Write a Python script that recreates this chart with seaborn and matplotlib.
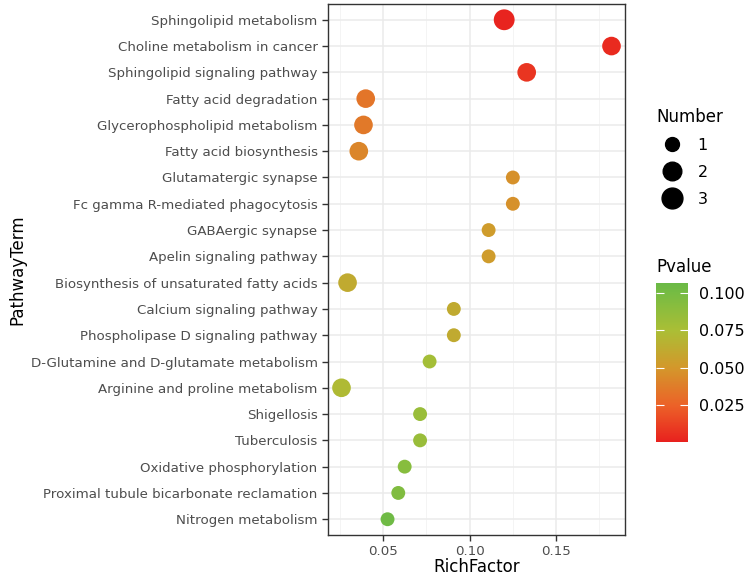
import numpy as np
import pandas as pd
import matplotlib
matplotlib.use("Agg")
import matplotlib.pyplot as plt
import seaborn as sns
from matplotlib.colors import LinearSegmentedColormap, Normalize
from matplotlib.lines import Line2D
from matplotlib.cm import ScalarMappable

# pathway terms, top to bottom
terms = [
    "Sphingolipid metabolism",
    "Choline metabolism in cancer",
    "Sphingolipid signaling pathway",
    "Fatty acid degradation",
    "Glycerophospholipid metabolism",
    "Fatty acid biosynthesis",
    "Glutamatergic synapse",
    "Fc gamma R-mediated phagocytosis",
    "GABAergic synapse",
    "Apelin signaling pathway",
    "Biosynthesis of unsaturated fatty acids",
    "Calcium signaling pathway",
    "Phospholipase D signaling pathway",
    "D-Glutamine and D-glutamate metabolism",
    "Arginine and proline metabolism",
    "Shigellosis",
    "Tuberculosis",
    "Oxidative phosphorylation",
    "Proximal tubule bicarbonate reclamation",
    "Nitrogen metabolism",
]
rich_factor = [0.120, 0.182, 0.133, 0.040, 0.0387, 0.036, 0.125, 0.125, 0.111, 0.111,
               0.0295, 0.0909, 0.0909, 0.0769, 0.026, 0.0714, 0.0714, 0.0625, 0.0588, 0.0526]
number = [3, 2, 2, 2, 2, 2, 1, 1, 1, 1, 2, 1, 1, 1, 2, 1, 1, 1, 1, 1]
pvalue = [0.002, 0.004, 0.008, 0.034, 0.036, 0.042, 0.047, 0.047, 0.053, 0.053,
          0.062, 0.062, 0.062, 0.078, 0.072, 0.083, 0.083, 0.092, 0.095, 0.104]

cbar_ticks = [0.025, 0.050, 0.075, 0.100]
cbar_labels = ["0.025", "0.050", "0.075", "0.100"]
size_levels = [1, 2, 3]

df = pd.DataFrame({"PathwayTerm": terms, "RichFactor": rich_factor,
                   "Number": number, "Pvalue": pvalue})

cmap = LinearSegmentedColormap.from_list(
    "rg",
    [(0.0, "#E8211E"), (0.23, "#EC6228"), (0.47, "#D3982B"),
     (0.70, "#ABBE35"), (0.93, "#78BC42"), (1.0, "#6AB946")])
norm = Normalize(0.0005, 0.1065)
sizes = {1: 100, 2: 180, 3: 225}

fig = plt.figure(figsize=(7.52, 5.76), dpi=100)
ax = fig.add_axes([328 / 752, 1 - 535 / 576, 297 / 752, 531 / 576])

sns.scatterplot(data=df, x="RichFactor", y="PathwayTerm", hue="Pvalue",
                palette=cmap, hue_norm=norm, size="Number", sizes=sizes,
                linewidth=0, alpha=1, legend=False, ax=ax, zorder=3)

ax.set_ylim(len(terms) - 0.4, -0.6)
lo, hi = min(rich_factor), max(rich_factor)
pad = (hi - lo) * 0.05
ax.set_xlim(lo - pad, hi + pad)
ax.set_xticks([0.05, 0.10, 0.15])
ax.set_xticklabels(["0.05", "0.10", "0.15"])
ax.set_xticks([0.025, 0.075, 0.125, 0.175], minor=True)

ax.set_facecolor("white")
ax.grid(True, which="major", color="#EBEBEB", linewidth=1.1, zorder=0)
ax.grid(True, which="minor", axis="x", color="#F2F2F2", linewidth=0.6, zorder=0)
ax.set_axisbelow(True)
for s in ax.spines.values():
    s.set_color("#333333")
    s.set_linewidth(1.0)
ax.tick_params(axis="both", which="major", color="#333333", length=4, width=1,
               labelcolor="#4D4D4D", labelsize=9.6)
ax.tick_params(axis="x", which="major", pad=3)
ax.tick_params(axis="x", which="minor", length=0)
ax.set_xlabel("RichFactor", fontsize=12, color="black", labelpad=0)
ax.set_ylabel("PathwayTerm", fontsize=12, color="black", labelpad=3)

# size legend
handles = [Line2D([], [], marker="o", linestyle="", color="black",
                  markersize=np.sqrt(sizes[n])) for n in size_levels]
leg = fig.legend(handles, [str(n) for n in size_levels], title="Number",
                 loc="upper left", bbox_to_anchor=(648 / 752, 1 - 100 / 576),
                 frameon=False, fontsize=11.5, title_fontsize=12,
                 labelspacing=0.75, handletextpad=0.6, borderpad=0)
leg._legend_box.align = "left"

# colour bar
cax = fig.add_axes([656 / 752, 1 - 442 / 576, 32 / 752, 159 / 576])
cb = fig.colorbar(ScalarMappable(norm=norm, cmap=cmap), cax=cax)
cb.outline.set_visible(False)
cb.set_ticks(cbar_ticks)
cb.set_ticklabels(cbar_labels)
cax.tick_params(axis="y", direction="in", color="white", length=6, width=0.8,
                left=True, right=True, labelleft=False, labelright=True,
                labelsize=11.5, pad=8)
fig.text(656 / 752, 1 - 267 / 576, "Pvalue", fontsize=12, va="center", ha="left")

fig.savefig("out.png", dpi=100)
